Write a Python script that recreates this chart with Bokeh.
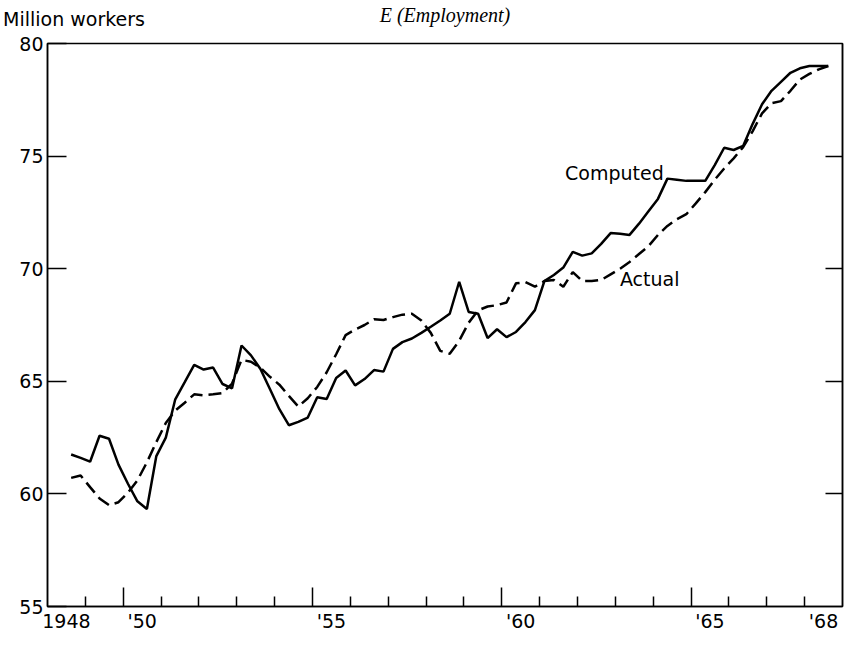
from bokeh.plotting import figure
from bokeh.models import Range1d, LinearAxis, FixedTicker, Label, ColumnDataSource
from bokeh.embed import file_html
from bokeh.resources import INLINE
import pandas as pd

# ---- data (quarterly, million workers) ----
first_quarter = "1948Q3"
last_quarter = "1968Q3"

computed = [61.75, 61.6, 61.43, 62.58, 62.45, 61.3, 60.45, 59.67, 59.33, 61.68,
            62.5, 64.2, 64.96, 65.73, 65.52, 65.61, 64.88, 64.69, 66.59, 66.15,
            65.55, 64.66, 63.76, 63.05, 63.2, 63.39, 64.29, 64.21, 65.15, 65.48,
            64.82, 65.1, 65.5, 65.43, 66.44, 66.74, 66.9, 67.15, 67.42, 67.7,
            68.0, 69.42, 68.08, 68.0, 66.92, 67.31, 66.96, 67.19, 67.63, 68.16,
            69.45, 69.72, 70.05, 70.75, 70.58, 70.68, 71.1, 71.58, 71.55, 71.5,
            72.0, 72.55, 73.1, 74.0, 73.95, 73.9, 73.9, 73.9, 74.6, 75.37,
            75.27, 75.45, 76.42, 77.3, 77.9, 78.3, 78.7, 78.9, 79.0, 79.0,
            79.0]

actual = [60.71, 60.82, 60.3, 59.8, 59.5, 59.63, 60.05, 60.6, 61.4, 62.3,
          63.15, 63.7, 64.05, 64.42, 64.38, 64.42, 64.48, 64.9, 65.95, 65.87,
          65.6, 65.2, 64.85, 64.35, 63.88, 64.25, 64.75, 65.4, 66.2, 67.05,
          67.3, 67.5, 67.75, 67.72, 67.85, 67.96, 68.0, 67.7, 67.15, 66.35,
          66.22, 66.8, 67.6, 68.15, 68.32, 68.38, 68.5, 69.35, 69.4, 69.2,
          69.45, 69.5, 69.2, 69.85, 69.45, 69.45, 69.5, 69.75, 70.0, 70.3,
          70.65, 71.0, 71.5, 71.9, 72.2, 72.42, 72.9, 73.4, 73.95, 74.45,
          74.9, 75.4, 76.1, 76.9, 77.35, 77.44, 77.9, 78.4, 78.65, 78.85,
          79.0]

y_ticks = [55, 60, 65, 70, 75, 80]
right_ticks = [60, 65, 70, 75]
major_years = [1950, 1955, 1960, 1965]
minor_years = [1949, 1951, 1952, 1953, 1954, 1956, 1957, 1958, 1959,
               1961, 1962, 1963, 1964, 1966, 1967, 1968]
label_years = [1948, 1950, 1955, 1960, 1965, 1968]
tick_labels = ["1948", "'50", "'55", "'60", "'65", "'68"]

title_text = "E (Employment)"
unit_text = "Million workers"

# quarter mid-points as decimal years
periods = pd.period_range(first_quarter, last_quarter, freq="Q")
t = [q.year + (q.quarter - 0.5) / 4.0 for q in periods]

src = ColumnDataSource(dict(t=t, computed=computed, actual=actual))

FONT = "DejaVu Sans"
FS = "19px"

p = figure(width=853, height=646, x_range=Range1d(1948, 1969), y_range=Range1d(55, 80),
           output_backend="svg", toolbar_location=None,
           x_axis_location=None, y_axis_location=None,
           min_border_left=47, min_border_right=11, min_border_top=43, min_border_bottom=40)
p.background_fill_color = "white"
p.border_fill_color = "white"
p.outline_line_color = "black"
p.outline_line_width = 1.5
p.xgrid.visible = False
p.ygrid.visible = False

left = LinearAxis(ticker=FixedTicker(ticks=y_ticks, minor_ticks=[]), major_tick_in=19, major_tick_out=0,
                  minor_tick_in=0, minor_tick_out=0, major_label_standoff=4,
                  major_label_text_font=FONT, major_label_text_font_size=FS,
                  major_label_text_color="black",
                  axis_line_width=1.5, major_tick_line_width=1.5)
p.add_layout(left, "left")

right = LinearAxis(ticker=FixedTicker(ticks=right_ticks, minor_ticks=[]), major_tick_in=17, major_tick_out=0,
                   minor_tick_in=0, minor_tick_out=0, major_label_standoff=0,
                   major_label_overrides={v: "" for v in right_ticks},
                   major_label_text_font_size="1px",
                   axis_line_width=1.5, major_tick_line_width=1.5)
p.add_layout(right, "right")

bottom_ticks = LinearAxis(ticker=FixedTicker(ticks=major_years, minor_ticks=minor_years),
                          major_tick_in=19, major_tick_out=0, minor_tick_in=10, minor_tick_out=0,
                          major_label_standoff=0,
                          major_label_overrides={v: "" for v in major_years},
                          major_label_text_font_size="1px",
                          axis_line_width=1.5, major_tick_line_width=1.5,
                          minor_tick_line_width=1.5, minor_tick_line_color="black")
p.add_layout(bottom_ticks, "below")

label_pos = [y + 0.5 for y in label_years]
bottom_labels = LinearAxis(ticker=FixedTicker(ticks=label_pos, minor_ticks=[]),
                           major_label_overrides={pos: lab for pos, lab in zip(label_pos, tick_labels)},
                           axis_line_color=None, major_tick_line_color=None,
                           minor_tick_line_color=None,
                           major_tick_in=0, major_tick_out=0, minor_tick_in=0, minor_tick_out=0,
                           major_label_standoff=3,
                           major_label_text_font=FONT, major_label_text_font_size=FS,
                           major_label_text_color="black")
p.add_layout(bottom_labels, "below")

# header row above the frame: unit text (as a tick label) and the chart title (as axis label)
unit_pos = 1948.70
top = LinearAxis(ticker=FixedTicker(ticks=[unit_pos], minor_ticks=[]),
                 major_label_overrides={unit_pos: unit_text},
                 axis_line_color=None, major_tick_line_color=None, minor_tick_line_color=None,
                 major_tick_in=0, major_tick_out=0, minor_tick_in=0, minor_tick_out=0,
                 major_label_standoff=14,
                 major_label_text_font=FONT, major_label_text_font_size=FS,
                 major_label_text_color="black",
                 axis_label=title_text, axis_label_text_font="Liberation Serif",
                 axis_label_text_font_style="italic", axis_label_text_font_size="20px",
                 axis_label_text_color="black", axis_label_standoff=-21)
p.add_layout(top, "above")

p.line("t", "computed", source=src, line_color="black", line_width=2.5)
p.line("t", "actual", source=src, line_color="black", line_width=2.5, line_dash="13 6")

p.add_layout(Label(x=1961.67, y=74.23, text="Computed", text_font=FONT, text_font_size=FS,
                   text_color="black", text_baseline="alphabetic", text_align="left"))
p.add_layout(Label(x=1963.12, y=69.55, text="Actual", text_font=FONT, text_font_size=FS,
                   text_color="black", text_baseline="alphabetic", text_align="left"))

open("out.html", "w").write(file_html(p, INLINE))
